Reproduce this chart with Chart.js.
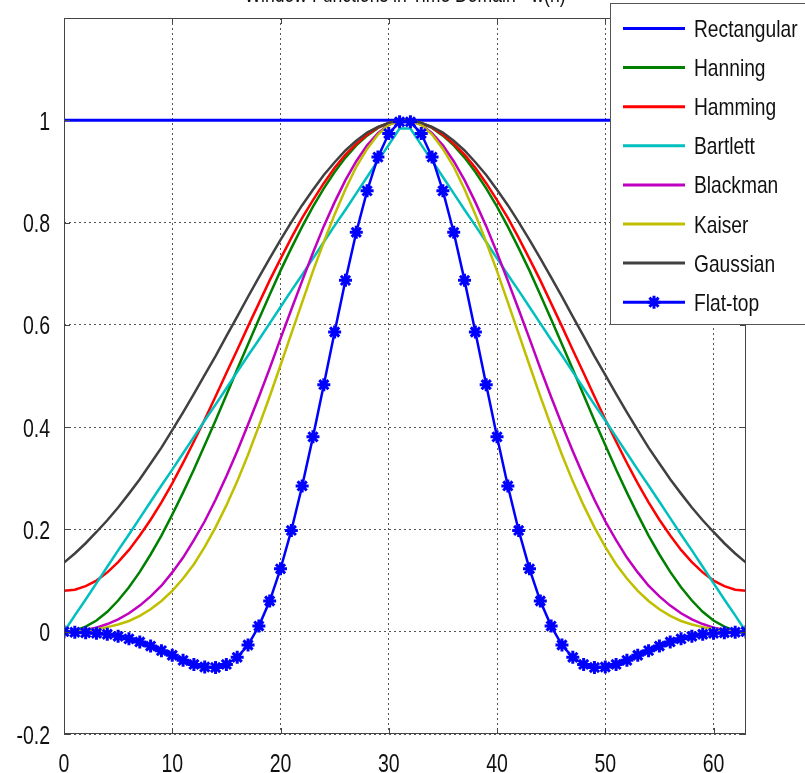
<!DOCTYPE html>
<html>
<head>
<meta charset="utf-8">
<script src="https://cdn.jsdelivr.net/npm/chart.js@4/dist/chart.umd.min.js"></script>
<style>
  html, body { margin: 0; padding: 0; background: #fff; }
  #chart { display: block; }
</style>
</head>
<body>
<canvas id="chart" width="805" height="773"></canvas>
<script>
// sample index n = 0..63
const n = Array.from({ length: 64 }, (_, i) => i);

const xTickLabels = ['0', '10', '20', '30', '40', '50', '60'];
const yTickLabels = ['-0.2', '0', '0.2', '0.4', '0.6', '0.8', '1'];
const chartTitle = 'Window Functions in Time Domain - w(n)';

const rectangular = [
  1, 1, 1, 1, 1, 1, 1, 1,
  1, 1, 1, 1, 1, 1, 1, 1,
  1, 1, 1, 1, 1, 1, 1, 1,
  1, 1, 1, 1, 1, 1, 1, 1,
  1, 1, 1, 1, 1, 1, 1, 1,
  1, 1, 1, 1, 1, 1, 1, 1,
  1, 1, 1, 1, 1, 1, 1, 1,
  1, 1, 1, 1, 1, 1, 1, 1
];

const hanning = [
  0, 0.002, 0.010, 0.022, 0.039, 0.061, 0.087, 0.117,
  0.151, 0.188, 0.229, 0.272, 0.317, 0.365, 0.413, 0.463,
  0.513, 0.562, 0.611, 0.659, 0.706, 0.750, 0.792, 0.831,
  0.867, 0.899, 0.927, 0.951, 0.970, 0.985, 0.994, 0.999,
  0.999, 0.994, 0.985, 0.970, 0.951, 0.927, 0.899, 0.867,
  0.831, 0.792, 0.750, 0.706, 0.659, 0.611, 0.562, 0.513,
  0.463, 0.413, 0.365, 0.317, 0.272, 0.229, 0.188, 0.151,
  0.117, 0.087, 0.061, 0.039, 0.022, 0.010, 0.002, 0
];

const hamming = [
  0.080, 0.082, 0.089, 0.100, 0.116, 0.136, 0.160, 0.188,
  0.219, 0.253, 0.290, 0.330, 0.372, 0.415, 0.460, 0.506,
  0.551, 0.597, 0.642, 0.687, 0.729, 0.770, 0.809, 0.844,
  0.877, 0.907, 0.933, 0.954, 0.972, 0.986, 0.995, 0.999,
  0.999, 0.995, 0.986, 0.972, 0.954, 0.933, 0.907, 0.877,
  0.844, 0.809, 0.770, 0.729, 0.687, 0.642, 0.597, 0.551,
  0.506, 0.460, 0.415, 0.372, 0.330, 0.290, 0.253, 0.219,
  0.188, 0.160, 0.136, 0.116, 0.100, 0.089, 0.082, 0.080
];

const bartlett = [
  0, 0.032, 0.063, 0.095, 0.127, 0.159, 0.190, 0.222,
  0.254, 0.286, 0.317, 0.349, 0.381, 0.413, 0.444, 0.476,
  0.508, 0.540, 0.571, 0.603, 0.635, 0.667, 0.698, 0.730,
  0.762, 0.794, 0.825, 0.857, 0.889, 0.921, 0.952, 0.984,
  0.984, 0.952, 0.921, 0.889, 0.857, 0.825, 0.794, 0.762,
  0.730, 0.698, 0.667, 0.635, 0.603, 0.571, 0.540, 0.508,
  0.476, 0.444, 0.413, 0.381, 0.349, 0.317, 0.286, 0.254,
  0.222, 0.190, 0.159, 0.127, 0.095, 0.063, 0.032, 0
];

const blackman = [
  0, 0.001, 0.004, 0.008, 0.015, 0.024, 0.036, 0.051,
  0.069, 0.090, 0.116, 0.145, 0.179, 0.216, 0.258, 0.304,
  0.353, 0.405, 0.459, 0.515, 0.573, 0.630, 0.686, 0.741,
  0.793, 0.840, 0.883, 0.920, 0.951, 0.975, 0.991, 0.999,
  0.999, 0.991, 0.975, 0.951, 0.920, 0.883, 0.840, 0.793,
  0.741, 0.686, 0.630, 0.573, 0.515, 0.459, 0.405, 0.353,
  0.304, 0.258, 0.216, 0.179, 0.145, 0.116, 0.090, 0.069,
  0.051, 0.036, 0.024, 0.015, 0.008, 0.004, 0.001, 0
];

const kaiser = [
  0, 0.001, 0.003, 0.005, 0.009, 0.014, 0.021, 0.031,
  0.044, 0.060, 0.080, 0.104, 0.132, 0.166, 0.204, 0.247,
  0.294, 0.346, 0.402, 0.460, 0.521, 0.583, 0.644, 0.705,
  0.762, 0.816, 0.865, 0.909, 0.944, 0.972, 0.991, 0.999,
  0.999, 0.991, 0.972, 0.944, 0.909, 0.865, 0.816, 0.762,
  0.705, 0.644, 0.583, 0.521, 0.460, 0.402, 0.346, 0.294,
  0.247, 0.204, 0.166, 0.132, 0.104, 0.080, 0.060, 0.044,
  0.031, 0.021, 0.014, 0.009, 0.005, 0.003, 0.001, 0
];

const gaussian = [
  0.135, 0.153, 0.173, 0.195, 0.218, 0.243, 0.270, 0.298,
  0.329, 0.360, 0.394, 0.429, 0.465, 0.502, 0.539, 0.578,
  0.616, 0.655, 0.693, 0.730, 0.766, 0.801, 0.834, 0.864,
  0.893, 0.918, 0.941, 0.960, 0.976, 0.987, 0.995, 1.000,
  1.000, 0.995, 0.987, 0.976, 0.960, 0.941, 0.918, 0.893,
  0.864, 0.834, 0.801, 0.766, 0.730, 0.693, 0.655, 0.616,
  0.578, 0.539, 0.502, 0.465, 0.429, 0.394, 0.360, 0.329,
  0.298, 0.270, 0.243, 0.218, 0.195, 0.173, 0.153, 0.135
];

const flatTop = [
  0, -0.001, -0.002, -0.003, -0.005, -0.009, -0.014, -0.020,
  -0.028, -0.037, -0.046, -0.056, -0.064, -0.069, -0.070, -0.064,
  -0.050, -0.026, 0.011, 0.060, 0.123, 0.198, 0.285, 0.381,
  0.483, 0.586, 0.687, 0.781, 0.862, 0.928, 0.974, 0.997,
  0.997, 0.974, 0.928, 0.862, 0.781, 0.687, 0.586, 0.483,
  0.381, 0.285, 0.198, 0.123, 0.060, 0.011, -0.026, -0.050,
  -0.064, -0.070, -0.069, -0.064, -0.056, -0.046, -0.037, -0.028,
  -0.020, -0.014, -0.009, -0.005, -0.003, -0.002, -0.001, 0
];

const FONT = '"Liberation Sans", Arial, sans-serif';

// draws text squeezed horizontally, like the narrow MATLAB screen font
function narrowText(ctx, text, x, y, size, sx, align) {
  ctx.save();
  ctx.font = size + 'px ' + FONT;
  ctx.textAlign = align;
  ctx.textBaseline = 'alphabetic';
  ctx.translate(x, y);
  ctx.scale(sx, 1);
  ctx.fillText(text, 0, 0);
  ctx.restore();
}

function drawStar(ctx, x, y, r) {
  ctx.beginPath();
  for (let k = 0; k < 4; k++) {
    const a = k * Math.PI / 4;
    ctx.moveTo(x - r * Math.cos(a), y - r * Math.sin(a));
    ctx.lineTo(x + r * Math.cos(a), y + r * Math.sin(a));
  }
  ctx.stroke();
}

// box, tick marks, tick labels, title and legend
const decorations = {
  id: 'decorations',
  afterDraw(chart) {
    const ctx = chart.ctx;
    const area = chart.chartArea;
    const xs = chart.scales.x;
    const ys = chart.scales.y;

    ctx.save();
    ctx.strokeStyle = '#444';
    ctx.lineWidth = 1;
    ctx.strokeRect(area.left + 0.5, area.top + 0.5, area.right - area.left - 1, area.bottom - area.top - 1);

    ctx.beginPath();
    xTickLabels.forEach(t => {
      const px = Math.round(xs.getPixelForValue(parseFloat(t))) + 0.5;
      ctx.moveTo(px, area.bottom); ctx.lineTo(px, area.bottom - 6);
      ctx.moveTo(px, area.top); ctx.lineTo(px, area.top + 6);
    });
    yTickLabels.forEach(t => {
      const py = Math.round(ys.getPixelForValue(parseFloat(t))) + 0.5;
      ctx.moveTo(area.left, py); ctx.lineTo(area.left + 6, py);
      ctx.moveTo(area.right, py); ctx.lineTo(area.right - 6, py);
    });
    ctx.stroke();

    ctx.fillStyle = '#111';
    xTickLabels.forEach(t => {
      narrowText(ctx, t, xs.getPixelForValue(parseFloat(t)), 772, 26, 0.75, 'center');
    });
    yTickLabels.forEach(t => {
      narrowText(ctx, t, 50, ys.getPixelForValue(parseFloat(t)) + 9.5, 26, 0.75, 'right');
    });

    narrowText(ctx, chartTitle, (area.left + area.right) / 2, 2, 22, 0.8, 'center');

    // legend box
    const lx = 610, ly = 3;
    ctx.fillStyle = '#fff';
    ctx.fillRect(lx, ly, 210, 322);
    ctx.strokeStyle = '#555';
    ctx.strokeRect(lx + 0.5, ly + 0.5, 210, 321);
    chart.data.datasets.forEach((ds, i) => {
      const ry = 28.5 + i * 39.1;
      ctx.strokeStyle = ds.borderColor;
      ctx.lineWidth = 3;
      ctx.beginPath();
      ctx.moveTo(623, ry);
      ctx.lineTo(685, ry);
      ctx.stroke();
      if (ds.pointRadius > 0) {
        ctx.lineWidth = 3;
        drawStar(ctx, 654, ry, 6.5);
      }
      ctx.fillStyle = '#111';
      narrowText(ctx, ds.label, 694, ry + 8.5, 24, 0.8, 'left');
    });
    ctx.restore();
  }
};

const names = ['Rectangular', 'Hanning', 'Hamming', 'Bartlett', 'Blackman', 'Kaiser', 'Gaussian', 'Flat-top'];
const series = [rectangular, hanning, hamming, bartlett, blackman, kaiser, gaussian, flatTop];
const colors = ['#0000ff', '#008000', '#ff0000', '#00bfbf', '#bf00bf', '#bfbf00', '#404040', '#0000ff'];

const datasets = series.map((vals, i) => ({
  label: names[i],
  data: vals,
  borderColor: colors[i],
  backgroundColor: colors[i],
  borderWidth: i === 0 ? 3 : 2.5,
  pointRadius: i === 7 ? 6.5 : 0,
  pointStyle: 'star',
  pointBorderWidth: 3,
  tension: 0,
  order: series.length - i   // later windows drawn on top
}));

new Chart(document.getElementById('chart'), {
  type: 'line',
  data: { labels: n, datasets: datasets },
  options: {
    responsive: false,
    animation: false,
    layout: { padding: { left: 64, right: 59, top: 18, bottom: 39 } },
    plugins: { legend: { display: false }, tooltip: { enabled: false }, title: { display: false } },
    scales: {
      x: {
        type: 'linear',
        min: 0,
        max: 63,
        ticks: { display: false, stepSize: 10, includeBounds: false },
        grid: { color: '#555', lineWidth: 1, drawTicks: false },
        border: { display: false, dash: [2, 3] }
      },
      y: {
        min: -0.2,
        max: 1.2,
        ticks: { display: false, stepSize: 0.2 },
        grid: { color: '#555', lineWidth: 1, drawTicks: false },
        border: { display: false, dash: [2, 3] }
      }
    }
  },
  plugins: [decorations]
});
</script>
</body>
</html>
